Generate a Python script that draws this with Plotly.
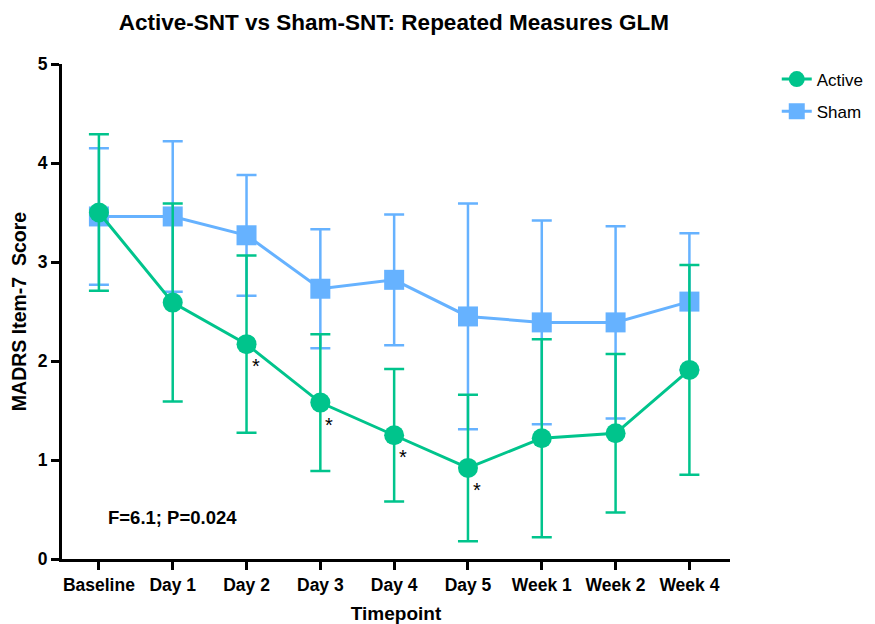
import plotly.graph_objects as go

timepoints = ["Baseline", "Day 1", "Day 2", "Day 3", "Day 4", "Day 5", "Week 1", "Week 2", "Week 4"]
active_mean = [3.50, 2.59, 2.17, 1.58, 1.25, 0.92, 1.22, 1.27, 1.91]
active_err = [0.79, 1.00, 0.895, 0.69, 0.67, 0.74, 1.00, 0.80, 1.06]
sham_mean = [3.46, 3.46, 3.27, 2.73, 2.82, 2.45, 2.39, 2.39, 2.60]
sham_err = [0.69, 0.76, 0.61, 0.60, 0.66, 1.14, 1.03, 0.97, 0.69]
significant = ["Day 2", "Day 3", "Day 4", "Day 5"]
stats_text = "F=6.1; P=0.024"

GREEN = "#00C48C"
BLUE = "#66B2FF"
FONT = "Liberation Sans, Arial, sans-serif"

fig = go.Figure()
fig.add_trace(go.Scatter(
    x=timepoints, y=sham_mean, name="Sham", mode="lines+markers",
    line=dict(color=BLUE, width=3),
    marker=dict(symbol="square", size=20, color=BLUE),
    error_y=dict(type="data", array=sham_err, visible=True, color=BLUE, thickness=2.5, width=10),
    legendrank=2, legendgroup="sham",
))
fig.add_trace(go.Scatter(
    x=timepoints, y=active_mean, name="Active", mode="lines+markers",
    line=dict(color=GREEN, width=3),
    marker=dict(symbol="circle", size=20, color=GREEN),
    error_y=dict(type="data", array=active_err, visible=True, color=GREEN, thickness=2.5, width=10),
    legendrank=1, legendgroup="active",
))

for tp in significant:
    i = timepoints.index(tp)
    fig.add_annotation(x=tp, y=active_mean[i], text="*", showarrow=False,
                       xshift=9, yshift=-22, font=dict(family=FONT, size=20, color="black"))

fig.add_annotation(x=timepoints[1], y=0.42, text=stats_text, showarrow=False,
                   font=dict(family=FONT, size=18.5, color="black", weight="bold"))

fig.update_layout(
    width=875, height=624,
    margin=dict(l=54, r=153, t=56, b=73, autoexpand=False),
    paper_bgcolor="white", plot_bgcolor="white",
    title=dict(text="Active-SNT vs Sham-SNT: Repeated Measures GLM",
               font=dict(family=FONT, size=22.5, color="black", weight="bold"),
               x=0.441, xanchor="center", y=0.9776, yanchor="middle"),
    font=dict(family=FONT, color="black"),
    legend=dict(x=1.07, y=1.005, xanchor="left", yanchor="top",
                font=dict(family=FONT, size=17, color="black"),
                itemsizing="trace", traceorder="grouped", tracegroupgap=7),
    showlegend=True,
)
fig.update_xaxes(
    type="category", range=[-0.5, 8.55],
    showline=True, linecolor="black", linewidth=3,
    ticks="outside", ticklen=8, tickwidth=3, tickcolor="black",
    showgrid=False, zeroline=False,
    tickfont=dict(family=FONT, size=17.5, color="black", weight="bold"),
    title=dict(text="Timepoint", font=dict(family=FONT, size=19, color="black", weight="bold"), standoff=13),
)
fig.update_yaxes(
    range=[0, 5], tickvals=[0, 1, 2, 3, 4, 5],
    showline=True, linecolor="black", linewidth=3,
    ticks="outside", ticklen=8, tickwidth=3, tickcolor="black",
    showgrid=False, zeroline=False,
    tickfont=dict(family=FONT, size=17.5, color="black", weight="bold"),
    title=dict(text="MADRS Item-7\u00a0 Score", font=dict(family=FONT, size=19.5, color="black", weight="bold"), standoff=10),
)

fig.write_html("out.html")
